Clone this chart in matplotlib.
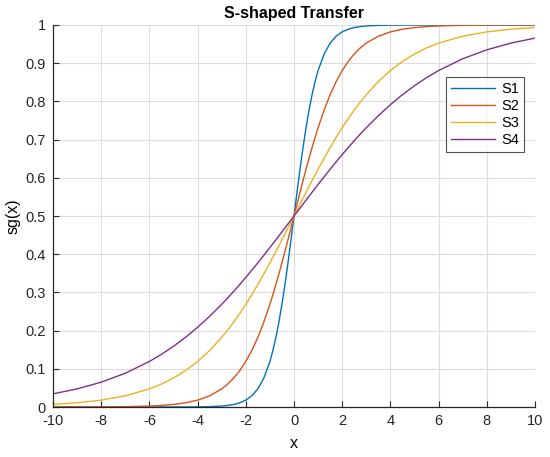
import matplotlib
matplotlib.use('Agg')
import matplotlib.pyplot as plt

plt.rcParams['font.family'] = ['Liberation Sans', 'DejaVu Sans']

# sample points along x (denser near the centre where the curves bend)
x = [-10, -9, -8, -7, -6, -5.5, -5, -4.5, -4, -3.5, -3, -2.75, -2.5, -2.25, -2, -1.75, -1.5,
     -1.25, -1, -0.875, -0.75, -0.625, -0.5, -0.375, -0.25, -0.125,
     0,
     0.125, 0.25, 0.375, 0.5, 0.625, 0.75, 0.875, 1, 1.25, 1.5, 1.75, 2, 2.25, 2.5, 2.75, 3,
     3.5, 4, 4.5, 5, 5.5, 6, 7, 8, 9, 10]

s1 = [0.0, 0.0, 0.0, 0.0, 0.0, 0.0, 0.0, 0.0001, 0.0003, 0.0009, 0.0025, 0.0041, 0.0067, 0.0110,
      0.0180, 0.0293, 0.0474, 0.0759, 0.1192, 0.1480, 0.1824, 0.2227, 0.2689, 0.3208, 0.3775,
      0.4378,
      0.5,
      0.5622, 0.6225, 0.6792, 0.7311, 0.7773, 0.8176, 0.8520, 0.8808, 0.9241, 0.9526, 0.9707,
      0.9820, 0.9890, 0.9933, 0.9959, 0.9975, 0.9991, 0.9997, 0.9999, 1.0, 1.0, 1.0, 1.0, 1.0,
      1.0, 1.0]
s2 = [0.0, 0.0001, 0.0003, 0.0009, 0.0025, 0.0041, 0.0067, 0.0110, 0.0180, 0.0293, 0.0474,
      0.0601, 0.0759, 0.0953, 0.1192, 0.1480, 0.1824, 0.2227, 0.2689, 0.2942, 0.3208, 0.3487,
      0.3775, 0.4073, 0.4378, 0.4688,
      0.5,
      0.5312, 0.5622, 0.5927, 0.6225, 0.6513, 0.6792, 0.7058, 0.7311, 0.7773, 0.8176, 0.8520,
      0.8808, 0.9047, 0.9241, 0.9399, 0.9526, 0.9707, 0.9820, 0.9890, 0.9933, 0.9959, 0.9975,
      0.9991, 0.9997, 0.9999, 1.0]
s3 = [0.0067, 0.0110, 0.0180, 0.0293, 0.0474, 0.0601, 0.0759, 0.0953, 0.1192, 0.1480, 0.1824,
      0.2018, 0.2227, 0.2451, 0.2689, 0.2942, 0.3208, 0.3487, 0.3775, 0.3923, 0.4073, 0.4225,
      0.4378, 0.4533, 0.4688, 0.4844,
      0.5,
      0.5156, 0.5312, 0.5467, 0.5622, 0.5775, 0.5927, 0.6077, 0.6225, 0.6513, 0.6792, 0.7058,
      0.7311, 0.7549, 0.7773, 0.7982, 0.8176, 0.8520, 0.8808, 0.9047, 0.9241, 0.9399, 0.9526,
      0.9707, 0.9820, 0.9890, 0.9933]
s4 = [0.0344, 0.0474, 0.0650, 0.0884, 0.1192, 0.1379, 0.1589, 0.1824, 0.2086, 0.2375, 0.2689,
      0.2856, 0.3029, 0.3208, 0.3392, 0.3582, 0.3775, 0.3973, 0.4174, 0.4276, 0.4378, 0.4481,
      0.4584, 0.4688, 0.4792, 0.4896,
      0.5,
      0.5104, 0.5208, 0.5312, 0.5416, 0.5519, 0.5622, 0.5724, 0.5826, 0.6027, 0.6225, 0.6418,
      0.6608, 0.6792, 0.6971, 0.7144, 0.7311, 0.7625, 0.7914, 0.8176, 0.8411, 0.8621, 0.8808,
      0.9116, 0.9350, 0.9526, 0.9656]

series = [s1, s2, s3, s4]
names = ['S1', 'S2', 'S3', 'S4']
colors = ['#0072BD', '#D95319', '#EDB120', '#7E2F8E']

x_ticks = list(range(-10, 11, 2))
y_ticks = [0, 0.1, 0.2, 0.3, 0.4, 0.5, 0.6, 0.7, 0.8, 0.9, 1]
y_labels = ['0', '0.1', '0.2', '0.3', '0.4', '0.5', '0.6', '0.7', '0.8', '0.9', '1']

fig = plt.figure(figsize=(5.5, 4.57), dpi=100)
ax = fig.add_axes([0.0964, 0.1094, 0.8763, 0.8359])

for ys, name, c in zip(series, names, colors):
    ax.plot(x, ys, color=c, lw=1.0, label=name)

ax.set_xlim(-10, 10)
ax.set_ylim(0, 1)
ax.set_xticks(x_ticks)
ax.set_xticklabels([str(t) for t in x_ticks])
ax.set_yticks(y_ticks)
ax.set_yticklabels(y_labels)
ax.grid(True, color='#dcdcdc', lw=0.8)
ax.set_axisbelow(True)
for side in ['top', 'right']:
    ax.spines[side].set_visible(False)
for side in ['left', 'bottom']:
    ax.spines[side].set_color('#262626')
    ax.spines[side].set_linewidth(0.9)
ax.tick_params(direction='in', length=4, labelsize=10.5, colors='#262626', width=0.8, pad=5)

ax.set_title('S-shaped Transfer', fontsize=11.5, fontweight='bold', pad=5)
ax.set_xlabel('x', fontsize=11.5, labelpad=6)
ax.set_ylabel('sg(x)', fontsize=11.5, labelpad=4)

leg = ax.legend(loc='upper right', bbox_to_anchor=(0.977, 0.864), fontsize=10.5, frameon=True,
                fancybox=False, edgecolor='#262626', handlelength=3.0, handletextpad=0.4,
                labelspacing=0.2, borderpad=0.35, borderaxespad=0)
leg.get_frame().set_linewidth(0.8)

fig.savefig('out.png', dpi=100, facecolor='white')
